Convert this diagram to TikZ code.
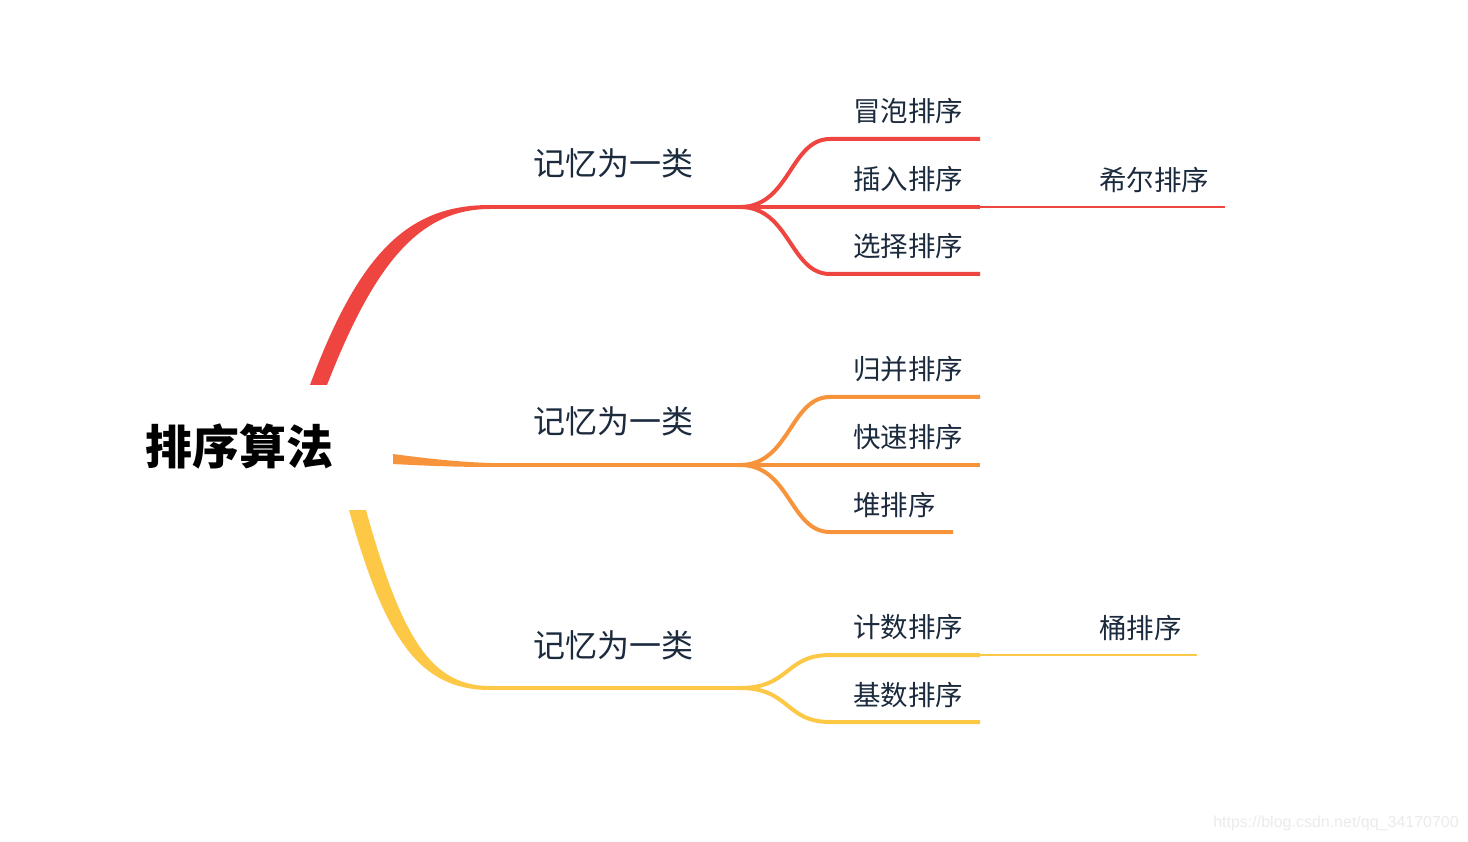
\documentclass[tikz,border=0pt]{standalone}
\usepackage{fontspec}
\newfontfamily\cjk{Noto Sans CJK SC}
\newfontfamily\wmfont{Liberation Sans}
\definecolor{cred}{HTML}{EF4540}
\definecolor{corange}{HTML}{F7933B}
\definecolor{cyellow}{HTML}{FDC846}
\definecolor{ctext}{HTML}{1B2A3D}
\begin{document}
\begin{tikzpicture}[x=1pt,y=-1pt,
  root/.style={font=\cjk\bfseries\fontsize{47}{50}\selectfont, text=black, inner sep=0pt},
  mainlabel/.style={font=\cjk\fontsize{32}{36}\selectfont, text=ctext, anchor=west, inner sep=0pt},
  leaf/.style={font=\cjk\fontsize{27.5}{30}\selectfont, text=ctext, anchor=west, inner sep=0pt},
  branch/.style={line width=4pt, line cap=butt},
  thin/.style={line width=1.6pt, line cap=butt}]
\useasboundingbox (0,0) rectangle (1468,842);
\fill[white] (0,0) rectangle (1468,842);

% root
\node[root] (root) at (239,447) {排序算法};

% ---------- red ----------
\coordinate (rA) at (490,207);
\coordinate (rB) at (740,207);
\coordinate (r1) at (830,139);
\coordinate (r1e) at (980,139);
\coordinate (r2e) at (980,207);
\coordinate (r3) at (830,274);
\coordinate (r3e) at (980,274);
\coordinate (r4e) at (1225,207);
\fill[cred] (310,385) .. controls (360,250) and (410,205) .. (490,205)
  -- (490,209) .. controls (420,209) and (375,262) .. (327,385) -- cycle;
\draw[branch,cred] (rA) -- (rB);
\draw[branch,cred] (rB) .. controls (790,207) and (790,139) .. (r1) -- (r1e);
\draw[branch,cred] (rB) -- (r2e);
\draw[branch,cred] (rB) .. controls (790,207) and (790,274) .. (r3) -- (r3e);
\draw[thin,cred] (r2e) -- (r4e);
\node[mainlabel] (m1) at (533,163) {记忆为一类};
\node[leaf] (l1) at (853,111) {冒泡排序};
\node[leaf] (l2) at (853,179) {插入排序};
\node[leaf] (l3) at (853,246) {选择排序};
\node[leaf] (l4) at (1099,180) {希尔排序};

% ---------- orange ----------
\coordinate (oA) at (490,465);
\coordinate (oB) at (740,465);
\coordinate (o1) at (830,397);
\coordinate (o1e) at (980,397);
\coordinate (o2e) at (980,465);
\coordinate (o3) at (830,532);
\coordinate (o3e) at (953,532);
\fill[corange] (393,454) .. controls (430,459) and (460,462) .. (490,463)
  -- (490,467) .. controls (460,467) and (430,466) .. (393,464) -- cycle;
\draw[branch,corange] (oA) -- (oB);
\draw[branch,corange] (oB) .. controls (790,465) and (790,397) .. (o1) -- (o1e);
\draw[branch,corange] (oB) -- (o2e);
\draw[branch,corange] (oB) .. controls (790,465) and (790,532) .. (o3) -- (o3e);
\node[mainlabel] (m2) at (533,421) {记忆为一类};
\node[leaf] (l5) at (853,369) {归并排序};
\node[leaf] (l6) at (853,437) {快速排序};
\node[leaf] (l7) at (853,505) {堆排序};

% ---------- yellow ----------
\coordinate (yA) at (490,688);
\coordinate (yB) at (740,688);
\coordinate (y1) at (830,655);
\coordinate (y1e) at (980,655);
\coordinate (y2) at (830,722);
\coordinate (y2e) at (980,722);
\coordinate (y3e) at (1197,655);
\fill[cyellow] (349,510) .. controls (385,640) and (420,690) .. (490,690)
  -- (490,686) .. controls (432,686) and (402,640) .. (366,510) -- cycle;
\draw[branch,cyellow] (yA) -- (yB);
\draw[branch,cyellow] (yB) .. controls (790,688) and (785,655) .. (y1) -- (y1e);
\draw[branch,cyellow] (yB) .. controls (790,688) and (785,722) .. (y2) -- (y2e);
\draw[thin,cyellow] (y1e) -- (y3e);
\node[mainlabel] (m3) at (533,645) {记忆为一类};
\node[leaf] (l8) at (853,627) {计数排序};
\node[leaf] (l9) at (853,695) {基数排序};
\node[leaf] (l10) at (1099,628) {桶排序};

% watermark
\node[font=\wmfont\fontsize{16}{18}\selectfont, text=black!8, anchor=east, inner sep=0pt] (wm) at (1459,823) {https://blog.csdn.net/qq\_34170700};
\end{tikzpicture}
\end{document}
